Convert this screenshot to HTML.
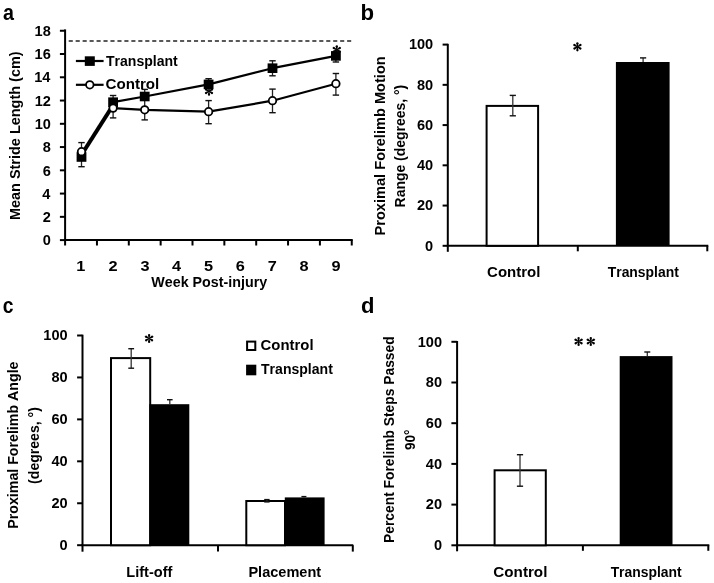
<!DOCTYPE html>
<html><head><meta charset="utf-8"><style>
html,body{margin:0;padding:0;background:#fff;}
svg{display:block;will-change:transform;font-family:"Liberation Sans",sans-serif;font-weight:bold;font-kerning:none;}
text{font-kerning:none;}
</style></head><body>
<svg width="714" height="583" viewBox="0 0 714 583">
<rect width="714" height="583" fill="#fff"/>
<text transform="translate(2.92 20.30) scale(0.9075 1)" font-size="21.7" fill="#000">a</text>
<line x1="65.10" y1="29.40" x2="65.10" y2="241.10" stroke="#000" stroke-width="2"/>
<line x1="64.10" y1="240.10" x2="352.75" y2="240.10" stroke="#000" stroke-width="2"/>
<line x1="59.90" y1="240.10" x2="65.10" y2="240.10" stroke="#000" stroke-width="2"/>
<text transform="translate(42.80 245.30) scale(1.0400 1)" font-size="14" fill="#000">0</text>
<line x1="59.90" y1="216.84" x2="65.10" y2="216.84" stroke="#000" stroke-width="2"/>
<text transform="translate(42.79 222.04) scale(1.0400 1)" font-size="14" fill="#000">2</text>
<line x1="59.90" y1="193.58" x2="65.10" y2="193.58" stroke="#000" stroke-width="2"/>
<text transform="translate(42.28 198.78) scale(1.0400 1)" font-size="14" fill="#000">4</text>
<line x1="59.90" y1="170.32" x2="65.10" y2="170.32" stroke="#000" stroke-width="2"/>
<text transform="translate(42.73 175.52) scale(1.0400 1)" font-size="14" fill="#000">6</text>
<line x1="59.90" y1="147.06" x2="65.10" y2="147.06" stroke="#000" stroke-width="2"/>
<text transform="translate(42.65 152.26) scale(1.0400 1)" font-size="14" fill="#000">8</text>
<line x1="59.90" y1="123.80" x2="65.10" y2="123.80" stroke="#000" stroke-width="2"/>
<text x="34.70" y="129.00" font-size="14" textLength="16.20" lengthAdjust="spacingAndGlyphs" fill="#000">10</text>
<line x1="59.90" y1="100.54" x2="65.10" y2="100.54" stroke="#000" stroke-width="2"/>
<text x="34.69" y="105.74" font-size="14" textLength="16.20" lengthAdjust="spacingAndGlyphs" fill="#000">12</text>
<line x1="59.90" y1="77.28" x2="65.10" y2="77.28" stroke="#000" stroke-width="2"/>
<text x="34.18" y="82.48" font-size="14" textLength="16.20" lengthAdjust="spacingAndGlyphs" fill="#000">14</text>
<line x1="59.90" y1="54.02" x2="65.10" y2="54.02" stroke="#000" stroke-width="2"/>
<text x="34.63" y="59.22" font-size="14" textLength="16.20" lengthAdjust="spacingAndGlyphs" fill="#000">16</text>
<line x1="59.90" y1="30.76" x2="65.10" y2="30.76" stroke="#000" stroke-width="2"/>
<text x="34.55" y="35.96" font-size="14" textLength="16.20" lengthAdjust="spacingAndGlyphs" fill="#000">18</text>
<line x1="65.10" y1="240.10" x2="65.10" y2="245.50" stroke="#000" stroke-width="2"/>
<line x1="96.95" y1="240.10" x2="96.95" y2="245.50" stroke="#000" stroke-width="2"/>
<line x1="128.80" y1="240.10" x2="128.80" y2="245.50" stroke="#000" stroke-width="2"/>
<line x1="160.65" y1="240.10" x2="160.65" y2="245.50" stroke="#000" stroke-width="2"/>
<line x1="192.50" y1="240.10" x2="192.50" y2="245.50" stroke="#000" stroke-width="2"/>
<line x1="224.35" y1="240.10" x2="224.35" y2="245.50" stroke="#000" stroke-width="2"/>
<line x1="256.20" y1="240.10" x2="256.20" y2="245.50" stroke="#000" stroke-width="2"/>
<line x1="288.05" y1="240.10" x2="288.05" y2="245.50" stroke="#000" stroke-width="2"/>
<line x1="319.90" y1="240.10" x2="319.90" y2="245.50" stroke="#000" stroke-width="2"/>
<line x1="351.75" y1="240.10" x2="351.75" y2="245.50" stroke="#000" stroke-width="2"/>
<text transform="translate(76.30 271.00) scale(1.1500 1)" font-size="14.2" fill="#000">1</text>
<text transform="translate(108.48 271.00) scale(1.1500 1)" font-size="14.2" fill="#000">2</text>
<text transform="translate(140.39 271.00) scale(1.1500 1)" font-size="14.2" fill="#000">3</text>
<text transform="translate(172.05 271.00) scale(1.1500 1)" font-size="14.2" fill="#000">4</text>
<text transform="translate(203.96 271.00) scale(1.1500 1)" font-size="14.2" fill="#000">5</text>
<text transform="translate(235.83 271.00) scale(1.1500 1)" font-size="14.2" fill="#000">6</text>
<text transform="translate(267.69 271.00) scale(1.1500 1)" font-size="14.2" fill="#000">7</text>
<text transform="translate(299.53 271.00) scale(1.1500 1)" font-size="14.2" fill="#000">8</text>
<text transform="translate(331.40 271.00) scale(1.1500 1)" font-size="14.2" fill="#000">9</text>
<text x="151.29" y="287.00" font-size="14.6" textLength="115.89" lengthAdjust="spacingAndGlyphs" fill="#000">Week Post-injury</text>
<text transform="translate(19.50 219.10) rotate(-90)" x="-0.97" y="0" font-size="15.0" textLength="168.69" lengthAdjust="spacingAndGlyphs" fill="#000">Mean Stride Length (cm)</text>
<line x1="68.70" y1="41.00" x2="353.00" y2="41.00" stroke="#222" stroke-width="1.6" stroke-dasharray="4.1 2.86"/>
<line x1="81.50" y1="142.60" x2="81.50" y2="166.70" stroke="#222" stroke-width="1.3"/>
<line x1="78.30" y1="142.60" x2="84.70" y2="142.60" stroke="#111" stroke-width="1.4"/>
<line x1="78.30" y1="166.70" x2="84.70" y2="166.70" stroke="#111" stroke-width="1.4"/>
<line x1="113.10" y1="95.50" x2="113.10" y2="117.90" stroke="#222" stroke-width="1.3"/>
<line x1="109.90" y1="95.50" x2="116.30" y2="95.50" stroke="#111" stroke-width="1.4"/>
<line x1="109.90" y1="117.90" x2="116.30" y2="117.90" stroke="#111" stroke-width="1.4"/>
<line x1="144.70" y1="89.40" x2="144.70" y2="119.90" stroke="#222" stroke-width="1.3"/>
<line x1="141.50" y1="89.40" x2="147.90" y2="89.40" stroke="#111" stroke-width="1.4"/>
<line x1="141.50" y1="119.90" x2="147.90" y2="119.90" stroke="#111" stroke-width="1.4"/>
<line x1="208.60" y1="78.70" x2="208.60" y2="89.00" stroke="#222" stroke-width="1.3"/>
<line x1="205.40" y1="78.70" x2="211.80" y2="78.70" stroke="#111" stroke-width="1.4"/>
<line x1="208.60" y1="100.60" x2="208.60" y2="123.70" stroke="#222" stroke-width="1.3"/>
<line x1="205.40" y1="100.60" x2="211.80" y2="100.60" stroke="#111" stroke-width="1.4"/>
<line x1="205.40" y1="123.70" x2="211.80" y2="123.70" stroke="#111" stroke-width="1.4"/>
<line x1="272.50" y1="60.80" x2="272.50" y2="75.80" stroke="#222" stroke-width="1.3"/>
<line x1="269.30" y1="60.80" x2="275.70" y2="60.80" stroke="#111" stroke-width="1.4"/>
<line x1="269.30" y1="75.80" x2="275.70" y2="75.80" stroke="#111" stroke-width="1.4"/>
<line x1="272.50" y1="89.10" x2="272.50" y2="112.70" stroke="#222" stroke-width="1.3"/>
<line x1="269.30" y1="89.10" x2="275.70" y2="89.10" stroke="#111" stroke-width="1.4"/>
<line x1="269.30" y1="112.70" x2="275.70" y2="112.70" stroke="#111" stroke-width="1.4"/>
<line x1="335.90" y1="50.00" x2="335.90" y2="62.00" stroke="#222" stroke-width="1.3"/>
<line x1="332.70" y1="62.00" x2="339.10" y2="62.00" stroke="#111" stroke-width="1.4"/>
<line x1="335.90" y1="73.50" x2="335.90" y2="95.10" stroke="#222" stroke-width="1.3"/>
<line x1="332.70" y1="73.50" x2="339.10" y2="73.50" stroke="#111" stroke-width="1.4"/>
<line x1="332.70" y1="95.10" x2="339.10" y2="95.10" stroke="#111" stroke-width="1.4"/>
<line x1="81.80" y1="154.35" x2="113.10" y2="105.15" stroke="#000" stroke-width="3.9"/>
<polyline points="113.10,108.10 144.70,109.80 208.60,111.70 272.50,100.70 335.90,83.70" fill="none" stroke="#000" stroke-width="2.2" stroke-linejoin="round"/>
<polyline points="113.10,102.20 144.70,96.50 208.60,84.40 272.50,68.20 335.90,55.90" fill="none" stroke="#000" stroke-width="2.2" stroke-linejoin="round"/>
<rect x="76.60" y="152.20" width="9.80" height="9.60" fill="#000"/>
<rect x="108.20" y="97.40" width="9.80" height="9.60" fill="#000"/>
<rect x="139.80" y="91.70" width="9.80" height="9.60" fill="#000"/>
<rect x="203.70" y="79.60" width="9.80" height="9.60" fill="#000"/>
<rect x="267.60" y="63.40" width="9.80" height="9.60" fill="#000"/>
<rect x="331.00" y="51.10" width="9.80" height="9.60" fill="#000"/>
<circle cx="81.50" cy="151.70" r="3.75" fill="#fff" stroke="#000" stroke-width="1.8"/>
<circle cx="113.10" cy="108.10" r="3.75" fill="#fff" stroke="#000" stroke-width="1.8"/>
<circle cx="144.70" cy="109.80" r="3.75" fill="#fff" stroke="#000" stroke-width="1.8"/>
<circle cx="208.60" cy="111.70" r="3.75" fill="#fff" stroke="#000" stroke-width="1.8"/>
<circle cx="272.50" cy="100.70" r="3.75" fill="#fff" stroke="#000" stroke-width="1.8"/>
<circle cx="335.90" cy="83.70" r="3.75" fill="#fff" stroke="#000" stroke-width="1.8"/>
<g transform="translate(209.00 91.20)" fill="#000"><path d="M0,-0.42 L3.45,-1.15 A1.15,1.15 0 0 1 3.45,1.15 L0,0.42 Z" transform="rotate(90)"/><path d="M0,-0.42 L3.45,-1.15 A1.15,1.15 0 0 1 3.45,1.15 L0,0.42 Z" transform="rotate(30)"/><path d="M0,-0.42 L3.45,-1.15 A1.15,1.15 0 0 1 3.45,1.15 L0,0.42 Z" transform="rotate(-30)"/><path d="M0,-0.42 L3.45,-1.15 A1.15,1.15 0 0 1 3.45,1.15 L0,0.42 Z" transform="rotate(-90)"/><path d="M0,-0.42 L3.45,-1.15 A1.15,1.15 0 0 1 3.45,1.15 L0,0.42 Z" transform="rotate(150)"/><path d="M0,-0.42 L3.45,-1.15 A1.15,1.15 0 0 1 3.45,1.15 L0,0.42 Z" transform="rotate(210)"/></g>
<g transform="translate(336.80 49.80)" fill="#000"><path d="M0,-0.42 L3.45,-1.15 A1.15,1.15 0 0 1 3.45,1.15 L0,0.42 Z" transform="rotate(90)"/><path d="M0,-0.42 L3.45,-1.15 A1.15,1.15 0 0 1 3.45,1.15 L0,0.42 Z" transform="rotate(30)"/><path d="M0,-0.42 L3.45,-1.15 A1.15,1.15 0 0 1 3.45,1.15 L0,0.42 Z" transform="rotate(-30)"/><path d="M0,-0.42 L3.45,-1.15 A1.15,1.15 0 0 1 3.45,1.15 L0,0.42 Z" transform="rotate(-90)"/><path d="M0,-0.42 L3.45,-1.15 A1.15,1.15 0 0 1 3.45,1.15 L0,0.42 Z" transform="rotate(150)"/><path d="M0,-0.42 L3.45,-1.15 A1.15,1.15 0 0 1 3.45,1.15 L0,0.42 Z" transform="rotate(210)"/></g>
<line x1="75.90" y1="61.00" x2="103.60" y2="61.00" stroke="#000" stroke-width="2.2"/>
<rect x="84.80" y="56.30" width="10.00" height="9.60" fill="#000"/>
<text x="105.94" y="65.50" font-size="14.0" textLength="71.83" lengthAdjust="spacingAndGlyphs" fill="#000">Transplant</text>
<line x1="75.90" y1="84.80" x2="103.60" y2="84.80" stroke="#000" stroke-width="2.2"/>
<circle cx="89.80" cy="84.80" r="3.75" fill="#fff" stroke="#000" stroke-width="1.8"/>
<text x="105.48" y="89.00" font-size="14.0" textLength="53.79" lengthAdjust="spacingAndGlyphs" fill="#000">Control</text>
<text transform="translate(360.53 20.30) scale(1.0243 1)" font-size="21.7" fill="#000">b</text>
<line x1="447.80" y1="43.80" x2="447.80" y2="251.80" stroke="#000" stroke-width="2"/>
<line x1="446.80" y1="245.80" x2="708.30" y2="245.80" stroke="#000" stroke-width="2"/>
<line x1="442.60" y1="245.80" x2="447.80" y2="245.80" stroke="#000" stroke-width="2"/>
<text transform="translate(425.10 250.60) scale(1.0400 1)" font-size="14" fill="#000">0</text>
<line x1="442.60" y1="205.56" x2="447.80" y2="205.56" stroke="#000" stroke-width="2"/>
<text x="417.00" y="210.36" font-size="14" textLength="16.20" lengthAdjust="spacingAndGlyphs" fill="#000">20</text>
<line x1="442.60" y1="165.32" x2="447.80" y2="165.32" stroke="#000" stroke-width="2"/>
<text x="417.00" y="170.12" font-size="14" textLength="16.20" lengthAdjust="spacingAndGlyphs" fill="#000">40</text>
<line x1="442.60" y1="125.08" x2="447.80" y2="125.08" stroke="#000" stroke-width="2"/>
<text x="417.00" y="129.88" font-size="14" textLength="16.20" lengthAdjust="spacingAndGlyphs" fill="#000">60</text>
<line x1="442.60" y1="84.84" x2="447.80" y2="84.84" stroke="#000" stroke-width="2"/>
<text x="417.00" y="89.64" font-size="14" textLength="16.20" lengthAdjust="spacingAndGlyphs" fill="#000">80</text>
<line x1="442.60" y1="44.60" x2="447.80" y2="44.60" stroke="#000" stroke-width="2"/>
<text x="408.90" y="49.40" font-size="14" textLength="24.29" lengthAdjust="spacingAndGlyphs" fill="#000">100</text>
<line x1="577.80" y1="245.80" x2="577.80" y2="251.30" stroke="#000" stroke-width="2"/>
<line x1="707.30" y1="245.80" x2="707.30" y2="251.30" stroke="#000" stroke-width="2"/>
<text x="487.09" y="277.00" font-size="14.6" textLength="53.28" lengthAdjust="spacingAndGlyphs" fill="#000">Control</text>
<text x="607.74" y="276.60" font-size="14.6" textLength="71.03" lengthAdjust="spacingAndGlyphs" fill="#000">Transplant</text>
<text transform="translate(384.80 234.50) rotate(-90)" x="-0.98" y="0" font-size="14.5" textLength="179.18" lengthAdjust="spacingAndGlyphs" fill="#000">Proximal Forelimb Motion</text>
<text transform="translate(404.60 206.50) rotate(-90)" x="-0.93" y="0" font-size="14.5" textLength="122.63" lengthAdjust="spacingAndGlyphs" fill="#000">Range (degrees, °)</text>
<rect x="486.60" y="105.90" width="51.50" height="139.90" fill="#fff" stroke="#000" stroke-width="2"/>
<line x1="512.80" y1="95.40" x2="512.80" y2="115.80" stroke="#333" stroke-width="1.3"/>
<line x1="509.70" y1="95.40" x2="515.90" y2="95.40" stroke="#111" stroke-width="1.4"/>
<line x1="509.70" y1="115.80" x2="515.90" y2="115.80" stroke="#111" stroke-width="1.4"/>
<rect x="615.90" y="62.00" width="53.70" height="183.80" fill="#000"/>
<line x1="643.10" y1="57.90" x2="643.10" y2="62.00" stroke="#333" stroke-width="1.3"/>
<line x1="640.00" y1="57.90" x2="646.20" y2="57.90" stroke="#111" stroke-width="1.4"/>
<g transform="translate(577.40 46.80)" fill="#000"><path d="M0,-0.42 L3.45,-1.15 A1.15,1.15 0 0 1 3.45,1.15 L0,0.42 Z" transform="rotate(90)"/><path d="M0,-0.42 L3.45,-1.15 A1.15,1.15 0 0 1 3.45,1.15 L0,0.42 Z" transform="rotate(30)"/><path d="M0,-0.42 L3.45,-1.15 A1.15,1.15 0 0 1 3.45,1.15 L0,0.42 Z" transform="rotate(-30)"/><path d="M0,-0.42 L3.45,-1.15 A1.15,1.15 0 0 1 3.45,1.15 L0,0.42 Z" transform="rotate(-90)"/><path d="M0,-0.42 L3.45,-1.15 A1.15,1.15 0 0 1 3.45,1.15 L0,0.42 Z" transform="rotate(150)"/><path d="M0,-0.42 L3.45,-1.15 A1.15,1.15 0 0 1 3.45,1.15 L0,0.42 Z" transform="rotate(210)"/></g>
<text transform="translate(2.75 313.10) scale(0.8880 1)" font-size="21.7" fill="#000">c</text>
<line x1="82.50" y1="334.70" x2="82.50" y2="551.70" stroke="#000" stroke-width="2"/>
<line x1="81.50" y1="545.20" x2="353.30" y2="545.20" stroke="#000" stroke-width="2"/>
<line x1="77.10" y1="545.20" x2="82.50" y2="545.20" stroke="#000" stroke-width="2"/>
<text transform="translate(59.50 550.00) scale(1.0400 1)" font-size="14" fill="#000">0</text>
<line x1="77.10" y1="503.26" x2="82.50" y2="503.26" stroke="#000" stroke-width="2"/>
<text x="51.40" y="508.06" font-size="14" textLength="16.20" lengthAdjust="spacingAndGlyphs" fill="#000">20</text>
<line x1="77.10" y1="461.32" x2="82.50" y2="461.32" stroke="#000" stroke-width="2"/>
<text x="51.40" y="466.12" font-size="14" textLength="16.20" lengthAdjust="spacingAndGlyphs" fill="#000">40</text>
<line x1="77.10" y1="419.38" x2="82.50" y2="419.38" stroke="#000" stroke-width="2"/>
<text x="51.40" y="424.18" font-size="14" textLength="16.20" lengthAdjust="spacingAndGlyphs" fill="#000">60</text>
<line x1="77.10" y1="377.44" x2="82.50" y2="377.44" stroke="#000" stroke-width="2"/>
<text x="51.40" y="382.24" font-size="14" textLength="16.20" lengthAdjust="spacingAndGlyphs" fill="#000">80</text>
<line x1="77.10" y1="335.50" x2="82.50" y2="335.50" stroke="#000" stroke-width="2"/>
<text x="43.30" y="340.30" font-size="14" textLength="24.29" lengthAdjust="spacingAndGlyphs" fill="#000">100</text>
<line x1="218.00" y1="545.20" x2="218.00" y2="551.60" stroke="#000" stroke-width="2"/>
<line x1="352.80" y1="545.20" x2="352.80" y2="551.60" stroke="#000" stroke-width="2"/>
<text x="126.33" y="576.70" font-size="14.6" textLength="46.04" lengthAdjust="spacingAndGlyphs" fill="#000">Lift-off</text>
<text x="248.43" y="576.50" font-size="14.6" textLength="72.75" lengthAdjust="spacingAndGlyphs" fill="#000">Placement</text>
<text transform="translate(18.40 527.80) rotate(-90)" x="-0.95" y="0" font-size="14.5" textLength="167.23" lengthAdjust="spacingAndGlyphs" fill="#000">Proximal Forelimb Angle</text>
<text transform="translate(38.60 483.20) rotate(-90)" x="-0.70" y="0" font-size="14.5" textLength="76.80" lengthAdjust="spacingAndGlyphs" fill="#000">(degrees, °)</text>
<rect x="111.00" y="358.10" width="39.20" height="187.10" fill="#fff" stroke="#000" stroke-width="2"/>
<line x1="131.20" y1="348.70" x2="131.20" y2="368.20" stroke="#333" stroke-width="1.3"/>
<line x1="128.30" y1="348.70" x2="134.10" y2="348.70" stroke="#111" stroke-width="1.4"/>
<line x1="128.30" y1="368.20" x2="134.10" y2="368.20" stroke="#111" stroke-width="1.4"/>
<rect x="149.30" y="404.20" width="40.00" height="141.00" fill="#000"/>
<line x1="169.80" y1="399.70" x2="169.80" y2="404.20" stroke="#333" stroke-width="1.3"/>
<line x1="167.00" y1="399.70" x2="172.60" y2="399.70" stroke="#111" stroke-width="1.4"/>
<rect x="246.30" y="501.00" width="38.70" height="44.20" fill="#fff" stroke="#000" stroke-width="2"/>
<line x1="266.90" y1="499.60" x2="266.90" y2="501.90" stroke="#333" stroke-width="1.3"/>
<line x1="264.20" y1="499.60" x2="269.60" y2="499.60" stroke="#111" stroke-width="1.4"/>
<line x1="264.20" y1="501.90" x2="269.60" y2="501.90" stroke="#111" stroke-width="1.4"/>
<rect x="284.80" y="497.40" width="39.80" height="47.80" fill="#000"/>
<line x1="303.90" y1="496.60" x2="303.90" y2="497.40" stroke="#333" stroke-width="1.3"/>
<line x1="301.40" y1="496.60" x2="306.40" y2="496.60" stroke="#111" stroke-width="1.4"/>
<g transform="translate(149.10 338.50)" fill="#000"><path d="M0,-0.42 L3.45,-1.15 A1.15,1.15 0 0 1 3.45,1.15 L0,0.42 Z" transform="rotate(90)"/><path d="M0,-0.42 L3.45,-1.15 A1.15,1.15 0 0 1 3.45,1.15 L0,0.42 Z" transform="rotate(30)"/><path d="M0,-0.42 L3.45,-1.15 A1.15,1.15 0 0 1 3.45,1.15 L0,0.42 Z" transform="rotate(-30)"/><path d="M0,-0.42 L3.45,-1.15 A1.15,1.15 0 0 1 3.45,1.15 L0,0.42 Z" transform="rotate(-90)"/><path d="M0,-0.42 L3.45,-1.15 A1.15,1.15 0 0 1 3.45,1.15 L0,0.42 Z" transform="rotate(150)"/><path d="M0,-0.42 L3.45,-1.15 A1.15,1.15 0 0 1 3.45,1.15 L0,0.42 Z" transform="rotate(210)"/></g>
<rect x="247.10" y="341.60" width="8.20" height="8.40" fill="#fff" stroke="#000" stroke-width="2"/>
<text x="260.59" y="350.40" font-size="14.2" textLength="52.97" lengthAdjust="spacingAndGlyphs" fill="#000">Control</text>
<rect x="246.10" y="364.70" width="10.20" height="10.60" fill="#000"/>
<text x="261.04" y="373.90" font-size="14.2" textLength="71.83" lengthAdjust="spacingAndGlyphs" fill="#000">Transplant</text>
<text transform="translate(361.00 312.80) scale(1.0151 1)" font-size="21.7" fill="#000">d</text>
<line x1="457.10" y1="341.00" x2="457.10" y2="551.30" stroke="#000" stroke-width="2"/>
<line x1="456.10" y1="545.30" x2="709.30" y2="545.30" stroke="#000" stroke-width="2"/>
<line x1="451.40" y1="545.30" x2="457.10" y2="545.30" stroke="#000" stroke-width="2"/>
<text transform="translate(433.90 550.10) scale(1.0400 1)" font-size="14" fill="#000">0</text>
<line x1="451.40" y1="504.60" x2="457.10" y2="504.60" stroke="#000" stroke-width="2"/>
<text x="425.80" y="509.40" font-size="14" textLength="16.20" lengthAdjust="spacingAndGlyphs" fill="#000">20</text>
<line x1="451.40" y1="463.90" x2="457.10" y2="463.90" stroke="#000" stroke-width="2"/>
<text x="425.80" y="468.70" font-size="14" textLength="16.20" lengthAdjust="spacingAndGlyphs" fill="#000">40</text>
<line x1="451.40" y1="423.20" x2="457.10" y2="423.20" stroke="#000" stroke-width="2"/>
<text x="425.80" y="428.00" font-size="14" textLength="16.20" lengthAdjust="spacingAndGlyphs" fill="#000">60</text>
<line x1="451.40" y1="382.50" x2="457.10" y2="382.50" stroke="#000" stroke-width="2"/>
<text x="425.80" y="387.30" font-size="14" textLength="16.20" lengthAdjust="spacingAndGlyphs" fill="#000">80</text>
<line x1="451.40" y1="341.80" x2="457.10" y2="341.80" stroke="#000" stroke-width="2"/>
<text x="417.70" y="346.60" font-size="14" textLength="24.29" lengthAdjust="spacingAndGlyphs" fill="#000">100</text>
<line x1="582.90" y1="545.30" x2="582.90" y2="550.80" stroke="#000" stroke-width="2"/>
<line x1="708.30" y1="545.30" x2="708.30" y2="550.80" stroke="#000" stroke-width="2"/>
<text x="493.38" y="576.60" font-size="14.6" textLength="54.00" lengthAdjust="spacingAndGlyphs" fill="#000">Control</text>
<text x="610.64" y="576.60" font-size="14.6" textLength="71.03" lengthAdjust="spacingAndGlyphs" fill="#000">Transplant</text>
<text transform="translate(394.30 542.00) rotate(-90)" x="-0.92" y="0" font-size="14.6" textLength="206.53" lengthAdjust="spacingAndGlyphs" fill="#000">Percent Forelimb Steps Passed</text>
<text transform="translate(414.90 449.60) rotate(-90)" x="-0.47" y="0" font-size="14.6" textLength="20.56" lengthAdjust="spacingAndGlyphs" fill="#000">90°</text>
<rect x="494.60" y="470.30" width="51.20" height="75.00" fill="#fff" stroke="#000" stroke-width="2"/>
<line x1="520.00" y1="454.70" x2="520.00" y2="486.20" stroke="#333" stroke-width="1.3"/>
<line x1="516.90" y1="454.70" x2="523.10" y2="454.70" stroke="#111" stroke-width="1.4"/>
<line x1="516.90" y1="486.20" x2="523.10" y2="486.20" stroke="#111" stroke-width="1.4"/>
<rect x="619.70" y="356.10" width="52.80" height="189.20" fill="#000"/>
<line x1="647.30" y1="352.00" x2="647.30" y2="356.10" stroke="#333" stroke-width="1.3"/>
<line x1="644.30" y1="352.00" x2="650.30" y2="352.00" stroke="#111" stroke-width="1.4"/>
<g transform="translate(578.60 341.50)" fill="#000"><path d="M0,-0.42 L3.45,-1.15 A1.15,1.15 0 0 1 3.45,1.15 L0,0.42 Z" transform="rotate(90)"/><path d="M0,-0.42 L3.45,-1.15 A1.15,1.15 0 0 1 3.45,1.15 L0,0.42 Z" transform="rotate(30)"/><path d="M0,-0.42 L3.45,-1.15 A1.15,1.15 0 0 1 3.45,1.15 L0,0.42 Z" transform="rotate(-30)"/><path d="M0,-0.42 L3.45,-1.15 A1.15,1.15 0 0 1 3.45,1.15 L0,0.42 Z" transform="rotate(-90)"/><path d="M0,-0.42 L3.45,-1.15 A1.15,1.15 0 0 1 3.45,1.15 L0,0.42 Z" transform="rotate(150)"/><path d="M0,-0.42 L3.45,-1.15 A1.15,1.15 0 0 1 3.45,1.15 L0,0.42 Z" transform="rotate(210)"/></g>
<g transform="translate(590.80 341.50)" fill="#000"><path d="M0,-0.42 L3.45,-1.15 A1.15,1.15 0 0 1 3.45,1.15 L0,0.42 Z" transform="rotate(90)"/><path d="M0,-0.42 L3.45,-1.15 A1.15,1.15 0 0 1 3.45,1.15 L0,0.42 Z" transform="rotate(30)"/><path d="M0,-0.42 L3.45,-1.15 A1.15,1.15 0 0 1 3.45,1.15 L0,0.42 Z" transform="rotate(-30)"/><path d="M0,-0.42 L3.45,-1.15 A1.15,1.15 0 0 1 3.45,1.15 L0,0.42 Z" transform="rotate(-90)"/><path d="M0,-0.42 L3.45,-1.15 A1.15,1.15 0 0 1 3.45,1.15 L0,0.42 Z" transform="rotate(150)"/><path d="M0,-0.42 L3.45,-1.15 A1.15,1.15 0 0 1 3.45,1.15 L0,0.42 Z" transform="rotate(210)"/></g>
</svg>
</body></html>
